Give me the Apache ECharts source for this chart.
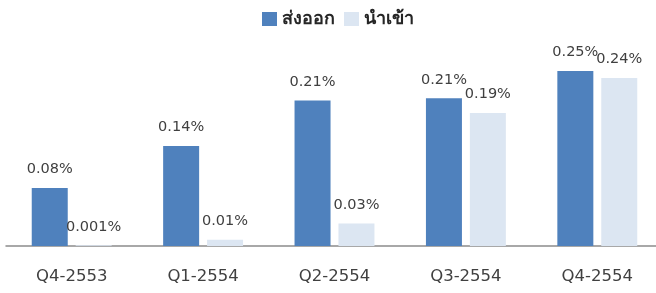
<!DOCTYPE html>
<html>
<head>
<meta charset="utf-8">
<script src="https://cdn.jsdelivr.net/npm/echarts@6/dist/echarts.min.js"></script>
<style>
  html, body { margin: 0; padding: 0; background: #fff; }
  #chart { width: 656px; height: 293px; }
</style>
</head>
<body>
<div id="chart"></div>
<script>
const categories = ['Q4-2553', 'Q1-2554', 'Q2-2554', 'Q3-2554', 'Q4-2554'];
const exportValues = [0.083, 0.143, 0.208, 0.211, 0.25];
const importValues = [0.001, 0.009, 0.032, 0.19, 0.24];
const exportLabels = ['0.08%', '0.14%', '0.21%', '0.21%', '0.25%'];
const importLabels = ['0.001%', '0.01%', '0.03%', '0.19%', '0.24%'];

const chart = echarts.init(document.getElementById('chart'));

const labelStyle = {
    show: true,
    position: 'top',
    distance: 11,
    fontSize: 14.5,
    color: '#404040',
    fontFamily: 'DejaVu Sans'
};

const option = {
    animation: false,
    legend: {
        top: 10,
        left: 262,
        padding: 0,
        icon: 'rect',
        itemWidth: 15,
        itemHeight: 14,
        itemGap: 9,
        textStyle: { fontSize: 18, fontWeight: 'bold', color: '#262626' },
        data: ['ส่งออก', 'นำเข้า']
    },
    grid: {
        left: 6,
        right: -7,
        top: 36,
        bottom: 47,
        containLabel: false,
        outerBoundsMode: 'none'
    },
    xAxis: {
        type: 'category',
        data: categories,
        axisLine: { lineStyle: { color: '#8c8c8c', width: 1.5 } },
        axisTick: { show: false },
        axisLabel: { fontSize: 16.5, color: '#404040', margin: 22, fontFamily: 'DejaVu Sans' }
    },
    yAxis: {
        type: 'value',
        min: 0,
        max: 0.3,
        show: false,
        splitLine: { show: false }
    },
    series: [
        {
            name: 'ส่งออก',
            type: 'bar',
            barWidth: 36,
            barGap: '22%',
            itemStyle: { color: '#4f81bd' },
            label: Object.assign({}, labelStyle, {
                formatter: p => exportLabels[p.dataIndex]
            }),
            data: exportValues
        },
        {
            name: 'นำเข้า',
            type: 'bar',
            barWidth: 36,
            itemStyle: { color: '#dce6f2' },
            label: Object.assign({}, labelStyle, {
                formatter: p => importLabels[p.dataIndex]
            }),
            data: importValues
        }
    ]
};

chart.setOption(option);
</script>
</body>
</html>
